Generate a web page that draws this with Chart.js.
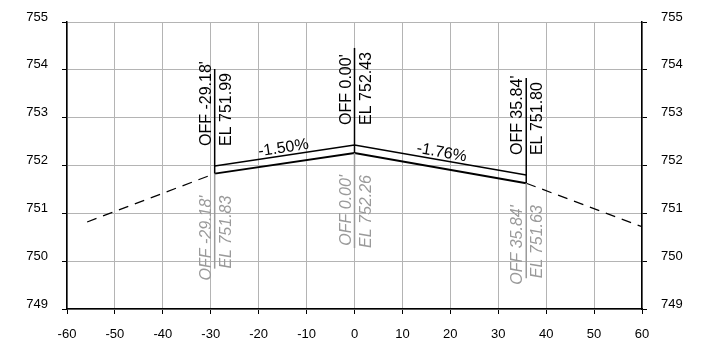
<!DOCTYPE html>
<html>
<head>
<meta charset="utf-8">
<script src="https://cdn.jsdelivr.net/npm/chart.js@4/dist/chart.umd.min.js"></script>
<style>
  html, body { margin: 0; padding: 0; background: #fff; }
  #wrap { width: 702px; height: 349px; }
</style>
</head>
<body>
<div id="wrap"><canvas id="sectionChart" width="702" height="349"></canvas></div>
<script>
// Datos de la sección transversal
const xTicks = [-60, -50, -40, -30, -20, -10, 0, 10, 20, 30, 40, 50, 60];
const yTicks = [749, 750, 751, 752, 753, 754, 755];

const stations = [-29.18, 0, 35.84];
const stationLabels = ["-29.18'", "0.00'", "35.84'"];
const topElev = [751.99, 752.43, 751.80];
const topElevLabels = ['751.99', '752.43', '751.80'];
const bottomElev = [751.83, 752.26, 751.63];
const bottomElevLabels = ['751.83', '752.26', '751.63'];
const grades = ['-1.50%', '-1.76%'];

const leftDaylightX = [-55.8, -29.18];
const leftDaylightY = [750.82, 751.83];
const rightDaylightX = [35.84, 60];
const rightDaylightY = [751.63, 750.72];

const toPoints = (xs, ys) => xs.map((x, i) => ({ x: x, y: ys[i] }));

// Plugin para las etiquetas de los puntos y las pendientes
const calloutPlugin = {
    id: 'callouts',
    afterDatasetsDraw(chart) {
        const ctx = chart.ctx;
        const xs = chart.scales.x;
        const ys = chart.scales.y;
        ctx.save();

        stations.forEach((st, i) => {
            const px = xs.getPixelForValue(st);
            const pTop = ys.getPixelForValue(topElev[i]);
            const pBot = ys.getPixelForValue(bottomElev[i]);

            // línea negra hacia arriba
            ctx.strokeStyle = '#000';
            ctx.lineWidth = 1.5;
            ctx.beginPath();
            ctx.moveTo(px, pBot);
            ctx.lineTo(px, pTop - 97);
            ctx.stroke();

            // línea gris hacia abajo
            ctx.strokeStyle = '#9a9a9a';
            ctx.lineWidth = 1.5;
            ctx.beginPath();
            ctx.moveTo(px, pBot);
            ctx.lineTo(px, pBot + 95);
            ctx.stroke();

            // textos negros
            ctx.save();
            ctx.translate(px, pTop - 20);
            ctx.rotate(-Math.PI / 2);
            ctx.font = '16px "Liberation Sans", Arial, sans-serif';
            ctx.fillStyle = '#000';
            ctx.textAlign = 'left';
            ctx.textBaseline = 'alphabetic';
            ctx.fillText('OFF ' + stationLabels[i], 0, -4);
            ctx.fillText('EL ' + topElevLabels[i], 0, 16);
            ctx.restore();

            // textos grises en cursiva
            ctx.save();
            ctx.translate(px, pBot + 22);
            ctx.rotate(-Math.PI / 2);
            ctx.font = 'italic 16px "Liberation Sans", Arial, sans-serif';
            ctx.fillStyle = '#9a9a9a';
            ctx.textAlign = 'right';
            ctx.textBaseline = 'alphabetic';
            ctx.fillText('OFF ' + stationLabels[i], 0, -4);
            ctx.fillText('EL ' + bottomElevLabels[i], 0, 16);
            ctx.restore();
        });

        // pendientes
        grades.forEach((g, i) => {
            const x1 = xs.getPixelForValue(stations[i]);
            const y1 = ys.getPixelForValue(topElev[i]);
            const x2 = xs.getPixelForValue(stations[i + 1]);
            const y2 = ys.getPixelForValue(topElev[i + 1]);
            const ang = Math.atan2(y2 - y1, x2 - x1);
            ctx.save();
            ctx.translate((x1 + x2) / 2, (y1 + y2) / 2);
            ctx.rotate(ang);
            ctx.font = '16px "Liberation Sans", Arial, sans-serif';
            ctx.fillStyle = '#000';
            ctx.textAlign = 'center';
            ctx.textBaseline = 'alphabetic';
            ctx.fillText(g, 0, -3);
            ctx.restore();
        });

        ctx.restore();
    }
};

document.addEventListener('DOMContentLoaded', function() {
    Chart.defaults.font.family = '"Liberation Sans", Arial, sans-serif';
    Chart.defaults.font.size = 13;
    Chart.defaults.color = '#000';

    const gridStyle = {
        color: '#b4b4b4',
        lineWidth: 1,
        tickColor: '#000',
        tickLength: 5
    };

    const ctx = document.getElementById('sectionChart').getContext('2d');
    new Chart(ctx, {
        type: 'scatter',
        data: {
            datasets: [
                {
                    label: 'Superficie',
                    data: toPoints(stations, topElev),
                    borderColor: '#000',
                    borderWidth: 1.5,
                    showLine: true,
                    pointRadius: 0
                },
                {
                    label: 'Subrasante',
                    data: toPoints(stations, bottomElev),
                    borderColor: '#000',
                    borderWidth: 2,
                    showLine: true,
                    pointRadius: 0
                },
                {
                    label: 'Talud izquierdo',
                    data: toPoints(leftDaylightX, leftDaylightY),
                    borderColor: '#000',
                    borderWidth: 1.2,
                    borderDash: [10, 7],
                    showLine: true,
                    pointRadius: 0
                },
                {
                    label: 'Talud derecho',
                    data: toPoints(rightDaylightX, rightDaylightY),
                    borderColor: '#000',
                    borderWidth: 1.2,
                    borderDash: [10, 7],
                    showLine: true,
                    pointRadius: 0
                }
            ]
        },
        options: {
            responsive: false,
            animation: false,
            devicePixelRatio: 1,
            layout: { padding: { top: 22, left: 0, right: 0, bottom: 0 } },
            plugins: {
                legend: { display: false },
                tooltip: { enabled: false }
            },
            scales: {
                x: {
                    type: 'linear',
                    position: 'bottom',
                    min: -60,
                    max: 60,
                    afterBuildTicks: s => { s.ticks = xTicks.map(v => ({ value: v })); },
                    afterFit: s => { s.height = 40; },
                    grid: gridStyle,
                    border: { color: '#000', width: 1.5 },
                    ticks: { padding: 13, maxRotation: 0 }
                },
                y: {
                    type: 'linear',
                    position: 'left',
                    min: 749,
                    max: 755,
                    afterBuildTicks: s => { s.ticks = yTicks.map(v => ({ value: v })); },
                    afterFit: s => { s.width = 67; },
                    grid: gridStyle,
                    border: { color: '#000', width: 1.5 },
                    ticks: { padding: 14, labelOffset: -5 }
                },
                y2: {
                    type: 'linear',
                    position: 'right',
                    min: 749,
                    max: 755,
                    afterBuildTicks: s => { s.ticks = yTicks.map(v => ({ value: v })); },
                    afterFit: s => { s.width = 60; },
                    grid: Object.assign({}, gridStyle, { drawOnChartArea: false }),
                    border: { color: '#000', width: 1.5 },
                    ticks: { padding: 14, labelOffset: -5 }
                }
            }
        },
        plugins: [calloutPlugin]
    });
});
</script>
</body>
</html>
